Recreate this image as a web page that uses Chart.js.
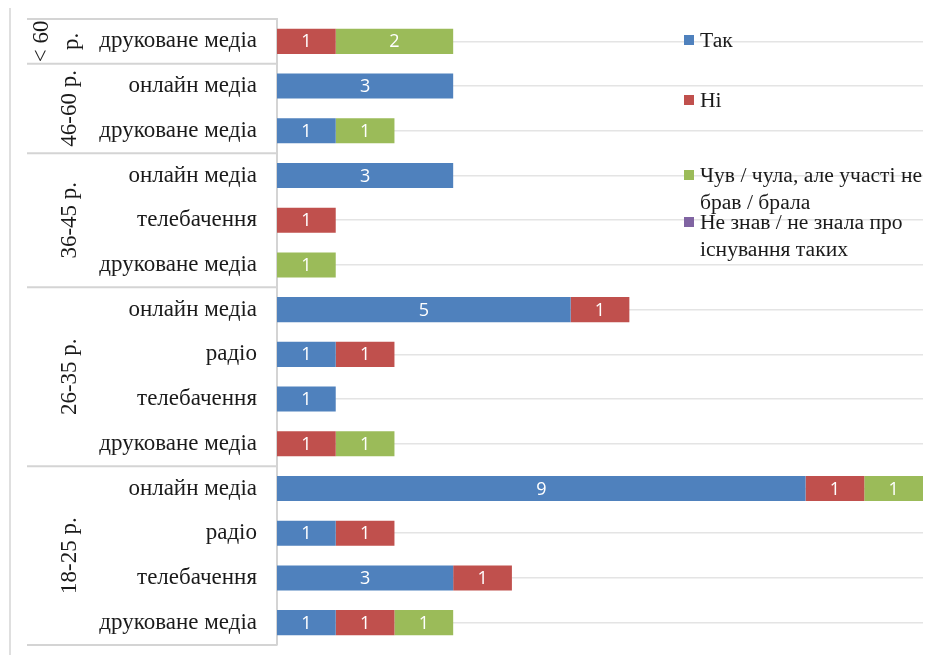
<!DOCTYPE html>
<html>
<head>
<meta charset="utf-8">
<script src="https://cdn.jsdelivr.net/npm/chart.js@4/dist/chart.umd.min.js"></script>
<style>
  body { margin: 0; background: #fff; }
  #wrap { position: relative; width: 935px; height: 655px; }
  #legend { position: absolute; left: 684px; top: 0; width: 250px; font-family: "Liberation Serif", "Times New Roman", serif; font-size: 21.6px; color: #1a1a1a; }
  .lg-item { position: absolute; left: 0; width: 248px; line-height: 27px; padding-left: 16px; box-sizing: border-box; }
  .lg-box { position: absolute; left: 0; top: 8px; width: 10px; height: 10px; }
</style>
</head>
<body>
<div id="wrap">
  <canvas id="chart" width="935" height="655"></canvas>
  <div id="legend"></div>
</div>
<script>
const categories = [
  'друковане медіа',
  'онлайн медіа', 'друковане медіа',
  'онлайн медіа', 'телебачення', 'друковане медіа',
  'онлайн медіа', 'радіо', 'телебачення', 'друковане медіа',
  'онлайн медіа', 'радіо', 'телебачення', 'друковане медіа'
];
const groupNames = [['< 60', 'р.'], ['46-60 р.'], ['36-45 р.'], ['26-35 р.'], ['18-25 р.']];
const groupSizes = [1, 2, 3, 4, 4];

const seriesNames = ['Так', 'Ні', 'Чув / чула, але участі не брав / брала', 'Не знав / не знала про існування таких'];
const yesVals   = [0, 3, 1, 3, 0, 0, 5, 1, 1, 0, 9, 1, 3, 1];
const noVals    = [1, 0, 0, 0, 1, 0, 1, 1, 0, 1, 1, 1, 1, 1];
const heardVals = [2, 0, 1, 0, 0, 1, 0, 0, 0, 1, 1, 0, 0, 1];
const unawareVals = [0, 0, 0, 0, 0, 0, 0, 0, 0, 0, 0, 0, 0, 0];
const colors = ['#4F81BD', '#C0504D', '#9BBB59', '#8064A2'];

const serif = '"Liberation Serif", "Times New Roman", serif';

// legend (html)
const legendTops = [27, 87, 162, 209];
const legendEl = document.getElementById('legend');
seriesNames.forEach((name, i) => {
  const d = document.createElement('div');
  d.className = 'lg-item';
  d.style.top = legendTops[i] + 'px';
  d.innerHTML = '<span class="lg-box" style="background:' + colors[i] + '"></span>' + name;
  legendEl.appendChild(d);
});

const valueLabels = {
  id: 'valueLabels',
  afterDatasetsDraw(chart) {
    const ctx = chart.ctx;
    ctx.save();
    ctx.fillStyle = '#fff';
    ctx.font = '18px "Open Sans", "Liberation Sans", sans-serif';
    ctx.textAlign = 'center';
    ctx.textBaseline = 'middle';
    chart.data.datasets.forEach((ds, di) => {
      chart.getDatasetMeta(di).data.forEach((el, i) => {
        const v = ds.data[i];
        if (!v) return;
        ctx.fillText(String(v), (el.x + el.base) / 2, el.y + 1);
      });
    });
    ctx.restore();
  }
};

const groupAxis = {
  id: 'groupAxis',
  afterDraw(chart) {
    const ctx = chart.ctx;
    const area = chart.chartArea;
    const band = (area.bottom - area.top) / categories.length;
    ctx.save();
    ctx.strokeStyle = '#d4d4d4';
    ctx.lineWidth = 1.5;
    // outer left line
    ctx.beginPath();
    ctx.moveTo(10, 8);
    ctx.lineTo(10, 655);
    ctx.stroke();
    let start = 0;
    const bounds = [area.top];
    groupSizes.forEach(n => { start += n; bounds.push(area.top + start * band); });
    ctx.lineWidth = 2;
    bounds.forEach(b => {
      ctx.beginPath();
      ctx.moveTo(27, b);
      ctx.lineTo(area.left, b);
      ctx.stroke();
    });
    ctx.fillStyle = '#1a1a1a';
    ctx.font = '23px ' + serif;
    ctx.textAlign = 'center';
    ctx.textBaseline = 'middle';
    groupNames.forEach((lines, g) => {
      const cy = (bounds[g] + bounds[g + 1]) / 2;
      const xs = lines.length > 1 ? [42, 72] : [70];
      lines.forEach((t, k) => {
        ctx.save();
        ctx.translate(xs[k], cy);
        ctx.rotate(-Math.PI / 2);
        ctx.fillText(t, 0, 0);
        ctx.restore();
      });
    });
    ctx.restore();
  }
};

const datasets = [yesVals, noVals, heardVals, unawareVals].map((vals, i) => ({
  label: seriesNames[i],
  data: vals,
  backgroundColor: colors[i],
  borderWidth: 0,
  barPercentage: 0.56,
  categoryPercentage: 1
}));

new Chart(document.getElementById('chart'), {
  type: 'bar',
  data: { labels: categories, datasets },
  options: {
    indexAxis: 'y',
    responsive: false,
    animation: false,
    devicePixelRatio: 1,
    layout: { padding: { top: 19, bottom: 10, right: 12, left: 0 } },
    plugins: { legend: { display: false }, tooltip: { enabled: false } },
    scales: {
      x: { display: false, stacked: true, min: 0, max: 11 },
      y: {
        stacked: true,
        afterFit: s => { s.width = 277; s.paddingTop = 0; s.paddingBottom = 0; },
        grid: { offset: false, color: '#e4e4e4', lineWidth: 1.5, drawTicks: false },
        border: { display: true, color: '#d4d4d4', width: 2 },
        ticks: { color: '#1a1a1a', font: { family: serif, size: 23 }, padding: 20 }
      }
    }
  },
  plugins: [valueLabels, groupAxis]
});
</script>
</body>
</html>
